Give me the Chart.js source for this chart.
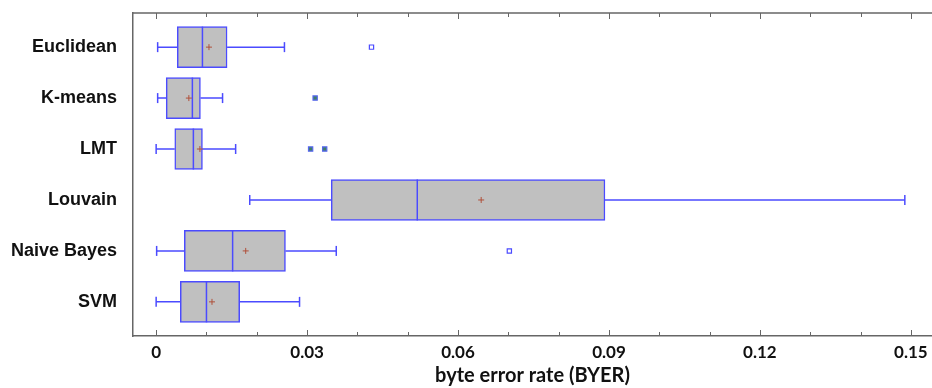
<!DOCTYPE html>
<html>
<head>
<meta charset="utf-8">
<script src="https://cdn.jsdelivr.net/npm/chart.js@4/dist/chart.umd.min.js"></script>
<style>
  html, body { margin: 0; padding: 0; background: #fff; }
  #wrap { width: 932px; height: 388px; }
</style>
</head>
<body>
<div id="wrap"><canvas id="boxChart"></canvas></div>
<script>
// box plot values per method (byte error rate)
var methods = ["Euclidean", "K-means", "LMT", "Louvain", "Naive Bayes", "SVM"];
var whiskerLow = [0.0003, 0.0003, 0.0000, 0.0186, 0.0001, 0.0000];
var q1 = [0.0042, 0.0020, 0.0037, 0.0348, 0.0056, 0.0048];
var median = [0.0092, 0.0072, 0.0074, 0.0519, 0.0152, 0.0100];
var mean = [0.0105, 0.0065, 0.0087, 0.0646, 0.0178, 0.0111];
var q3 = [0.0141, 0.0088, 0.0092, 0.0892, 0.0257, 0.0166];
var whiskerHigh = [0.0255, 0.0132, 0.0158, 0.1488, 0.0358, 0.0285];
// outliers: [method index, value]
var farOutliers = [[0, 0.0428], [4, 0.0702]];
var nearOutliers = [[1, 0.0316], [2, 0.0307], [2, 0.0335]];
var xTicks = [0, 0.03, 0.06, 0.09, 0.12, 0.15];

var blue = "#4b4bff";

var boxes = methods.map(function (m, i) { return { y: i, x: [q1[i], q3[i]] }; });
var whiskers = [];
methods.forEach(function (m, i) {
    whiskers.push({ x: whiskerLow[i], y: i }, { x: q1[i], y: i }, { x: null, y: null });
    whiskers.push({ x: q3[i], y: i }, { x: whiskerHigh[i], y: i }, { x: null, y: null });
});
var caps = [];
methods.forEach(function (m, i) {
    caps.push({ x: whiskerLow[i], y: i }, { x: whiskerHigh[i], y: i });
});
var medians = median.map(function (v, i) { return { x: v, y: i }; });
var means = mean.map(function (v, i) { return { x: v, y: i }; });
var farPts = farOutliers.map(function (o) { return { x: o[1], y: o[0] }; });
var nearPts = nearOutliers.map(function (o) { return { x: o[1], y: o[0] }; });

// inward tick marks and top frame line
var frameTicks = {
    id: "frameTicks",
    afterDraw: function (chart) {
        var c = chart.ctx, a = chart.chartArea, xs = chart.scales.x;
        c.save();
        c.strokeStyle = "#666";
        c.lineWidth = 1.5;
        c.beginPath();
        c.moveTo(a.left, a.top);
        c.lineTo(a.right, a.top);
        c.stroke();
        c.lineWidth = 1;
        for (var k = 0; k <= 15; k++) {
            var px = Math.round(xs.getPixelForValue(k / 100)) + 0.5;
            var len = (k % 3 === 0) ? 6 : 4;
            c.beginPath();
            c.moveTo(px, a.top);
            c.lineTo(px, a.top + len);
            c.moveTo(px, a.bottom);
            c.lineTo(px, a.bottom - len);
            c.stroke();
        }
        c.restore();
    }
};

function noEdgePadding(axis) {
    axis.paddingTop = 0;
    axis.paddingBottom = 0;
    axis.paddingLeft = 0;
    axis.paddingRight = 0;
}

var ctx = document.getElementById("boxChart").getContext("2d");
var boxChart = new Chart(ctx, {
    type: "bar",
    data: {
        datasets: [{
            type: "scatter",
            data: means,
            pointStyle: "cross",
            pointRadius: 3,
            borderColor: "#b0503a",
            borderWidth: 1,
            order: 1
        }, {
            type: "scatter",
            data: medians,
            pointStyle: "line",
            pointRotation: 90,
            pointRadius: 20.5,
            borderColor: blue,
            borderWidth: 1.5,
            order: 1
        }, {
            type: "scatter",
            data: farPts,
            pointStyle: "rect",
            pointRadius: 3,
            borderColor: blue,
            backgroundColor: "#fff",
            borderWidth: 1.2,
            order: 1
        }, {
            type: "scatter",
            data: nearPts,
            pointStyle: "rect",
            pointRadius: 3,
            borderColor: "#5566ee",
            backgroundColor: "#3f7f66",
            borderWidth: 1.2,
            order: 1
        }, {
            type: "scatter",
            data: caps,
            pointStyle: "line",
            pointRotation: 90,
            pointRadius: 5,
            borderColor: blue,
            borderWidth: 1.5,
            order: 2
        }, {
            type: "line",
            data: whiskers,
            borderColor: blue,
            borderWidth: 1.5,
            pointRadius: 0,
            spanGaps: false,
            order: 2
        }, {
            type: "bar",
            indexAxis: "y",
            data: boxes,
            backgroundColor: "#c0c0c0",
            borderColor: blue,
            borderWidth: 1.5,
            borderSkipped: false,
            barThickness: 41,
            order: 3
        }]
    },
    options: {
        responsive: true,
        maintainAspectRatio: false,
        animation: false,
        layout: { autoPadding: false, padding: { top: 13, right: 0, bottom: 0, left: 0 } },
        plugins: { legend: { display: false }, tooltip: { enabled: false } },
        scales: {
            x: {
                type: "linear",
                position: "bottom",
                offset: false,
                min: -0.0046,
                max: 0.1542,
                afterFit: function (axis) { axis.height = 52; noEdgePadding(axis); },
                afterBuildTicks: function (axis) {
                    axis.ticks = xTicks.map(function (v) { return { value: v }; });
                },
                ticks: {
                    padding: 6,
                    color: "#111",
                    maxRotation: 0,
                    font: { family: "Lato", weight: "bold", size: 17 },
                    callback: function (v) { return String(+v.toFixed(2)); }
                },
                grid: { display: false, drawTicks: false, offset: false },
                border: { display: true, color: "#666", width: 1.5 },
                title: {
                    display: true,
                    text: "byte error rate (BYER)",
                    color: "#111",
                    padding: { top: 0, bottom: 0 },
                    font: { family: "Lato", weight: "bold", size: 20 }
                }
            },
            y: {
                type: "linear",
                reverse: true,
                offset: false,
                min: -0.67,
                max: 5.67,
                afterFit: function (axis) { axis.width = 133; noEdgePadding(axis); },
                afterBuildTicks: function (axis) {
                    axis.ticks = methods.map(function (m, i) { return { value: i }; });
                },
                ticks: {
                    padding: 16,
                    color: "#111",
                    font: { family: "Liberation Sans", weight: "bold", size: 18 },
                    callback: function (v) { return methods[v]; }
                },
                grid: { display: false, drawTicks: false, offset: false },
                border: { display: true, color: "#666", width: 1.5 }
            }
        }
    },
    plugins: [frameTicks]
});
</script>
</body>
</html>
